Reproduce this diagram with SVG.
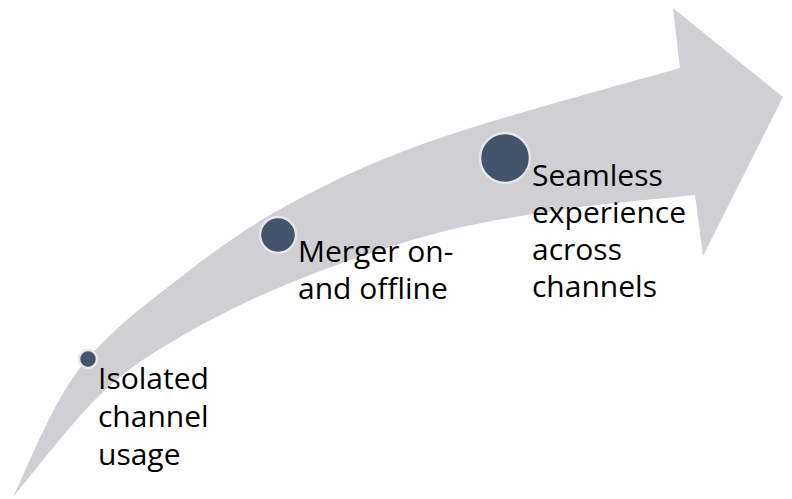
<svg xmlns="http://www.w3.org/2000/svg" width="792" height="499" viewBox="0 0 792 499">
<style>
.node circle{fill:#44546a;stroke:#e6e6e8;stroke-width:2.5}
.lbl{font-family:"Open Sans","Liberation Sans",sans-serif;font-size:30px;fill:#000}
</style>
<rect width="792" height="499" fill="#fff"/>
<g id="connectors">
<path id="arrow" fill="#d0d0d4" d="M13,497 C24.2,475.5 50.5,405.8 80,368 C109.5,330.2 153.8,298 190,270 C226.2,242 255.3,222 297,200 C338.7,178 376.2,160 440,138 C503.8,116 640,79.7 680,68 L673,8 L783,97 L703,256 L695,195 C672.5,197.5 604.2,203.3 560,210 C515.8,216.7 475,222.8 430,235 C385,247.2 331.7,266 290,283 C248.3,300 211.7,318.3 180,337 C148.3,355.7 127.8,368.3 100,395 C72.2,421.7 27.5,480 13,497 Z"/>
</g>
<g id="node1" class="node">
<circle cx="88" cy="359" r="9"/>
<text class="lbl" x="98" y="389">Isolated</text>
<text class="lbl" x="98" y="427">channel</text>
<text class="lbl" x="98" y="465">usage</text>
</g>
<g id="node2" class="node">
<circle cx="278" cy="235" r="18"/>
<text class="lbl" x="298" y="262">Merger on-</text>
<text class="lbl" x="298" y="299">and offline</text>
</g>
<g id="node3" class="node">
<circle cx="505" cy="158" r="25"/>
<text class="lbl" x="532" y="186">Seamless</text>
<text class="lbl" x="532" y="223">experience</text>
<text class="lbl" x="532" y="260">across</text>
<text class="lbl" x="532" y="297">channels</text>
</g>
</svg>
